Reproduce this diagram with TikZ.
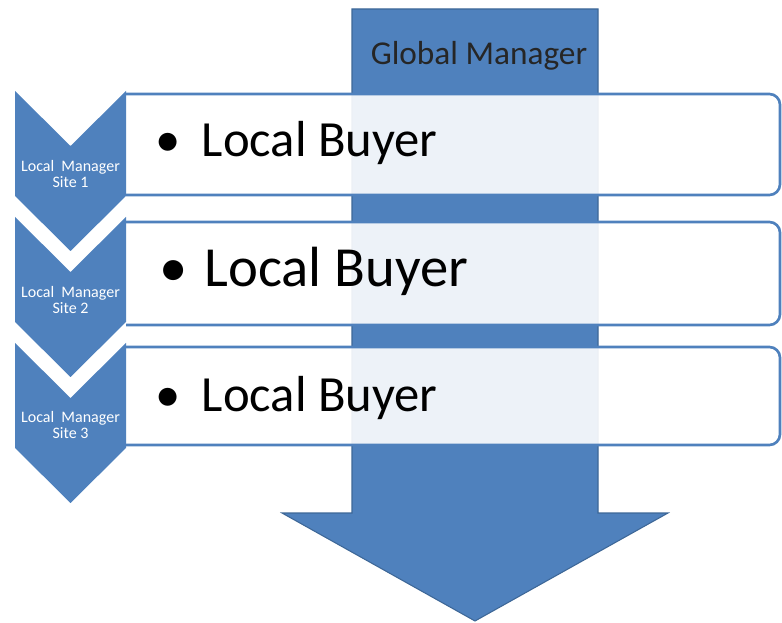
\documentclass[tikz,border=0pt]{standalone}
\usepackage{fontspec}
\setmainfont{Carlito}
\usetikzlibrary{positioning}
\definecolor{accent}{HTML}{4F81BD}
\definecolor{accentdark}{HTML}{3D6797}

\begin{document}
\begin{tikzpicture}
    [x=0.75pt, y=-0.75pt,
      chevron/.style={fill=accent, draw=none},
      listbox/.style={draw=accent, line width=2pt, fill=white, fill opacity=0.9, rounded corners=8pt},
      site/.style={text=white, align=center, inner sep=0pt, font=\fontsize{12}{11.5}\selectfont},
      buyer/.style={anchor=base west, inner sep=0pt, font=\fontsize{38}{40}\selectfont}]

    \useasboundingbox (0,0) rectangle (782,623);

    % global manager arrow
    \draw[fill=accent, draw=accentdark, line width=0.8pt]
      (352,9) -- (598,9) -- (598,513) -- (668,513) -- (475,621) -- (282,513) -- (352,513) -- cycle;
    \node[anchor=base, inner sep=0pt, font=\fontsize{25}{30}\selectfont, text=black!85] (global) at (479,65) {Global Manager};

    % list boxes, the arrow shows through; left ends stay square
    \begin{scope}
      \clip (126,0) rectangle (782,623);
      \draw[listbox] (110,94) rectangle (780,195);
      \draw[listbox] (110,222) rectangle (780,325);
      \draw[listbox] (110,347) rectangle (780,445);
    \end{scope}

    % chevrons
    \coordinate (site1) at (15,91);
    \coordinate (site2) at (15,217);
    \coordinate (site3) at (15,343);

    \fill[chevron, shift={(site1)}] (0,0) -- (55.5,55) -- (111,0) -- (111,105) -- (55.5,160) -- (0,105) -- cycle;
    \fill[chevron, shift={(site2)}] (0,0) -- (55.5,55) -- (111,0) -- (111,105) -- (55.5,160) -- (0,105) -- cycle;
    \fill[chevron, shift={(site3)}] (0,0) -- (55.5,55) -- (111,0) -- (111,105) -- (55.5,160) -- (0,105) -- cycle;

    \node[site] (label1) at (70.5,174) {Local\ \ Manager\\Site 1};
    \node[site] (label2) at (70.5,300) {Local\ \ Manager\\Site 2};
    \node[site] (label3) at (70.5,425) {Local\ \ Manager\\Site 3};

    % buyers
    \node[buyer] (buyer1) at (155,157) {•\hspace{0.42em}Local Buyer};
    \node[buyer, font=\fontsize{42.5}{44}\selectfont] (buyer2) at (159,287) {•\hspace{0.3em}Local Buyer};
    \node[buyer] (buyer3) at (155,412) {•\hspace{0.42em}Local Buyer};
  \end{tikzpicture}
\end{document}
